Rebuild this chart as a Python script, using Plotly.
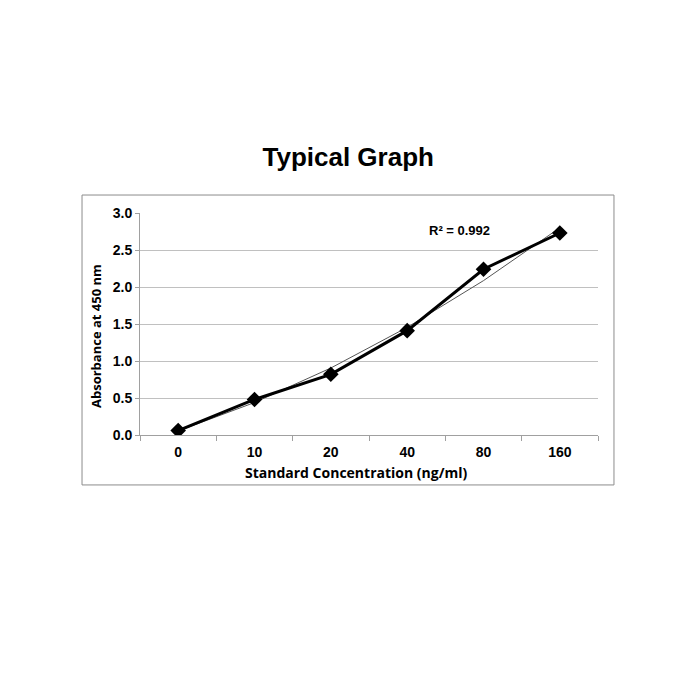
import numpy as np
import plotly.graph_objects as go

# standard curve readings
concentrations = ["0", "10", "20", "40", "80", "160"]
absorbance = [0.06, 0.48, 0.82, 1.41, 2.24, 2.73]
r_squared_label = "R² = 0.992"

# Excel-style polynomial (order 2) trend line over the category positions
idx = np.arange(len(concentrations))
coef = np.polyfit(idx, absorbance, 2)
trend = np.polyval(coef, idx)

fig = go.Figure()
fig.add_trace(go.Scatter(x=concentrations, y=trend, mode="lines",
                         line=dict(color="#555555", width=1), hoverinfo="skip"))
fig.add_trace(go.Scatter(x=concentrations, y=absorbance, mode="lines+markers",
                         line=dict(color="black", width=3),
                         marker=dict(symbol="diamond", size=12, color="black")))

# page body has an 8px margin, so the margins are shifted by that
fig.update_layout(
    width=700, height=700,
    paper_bgcolor="white", plot_bgcolor="white",
    showlegend=False,
    margin=dict(l=132, r=110, t=205, b=273),
    title=dict(text="<b>Typical Graph</b>", x=0.486, xanchor="center", y=0.787, yanchor="middle",
               font=dict(family="Liberation Sans, Arial", size=26, color="black")),
    font=dict(family="Liberation Sans, Arial", color="black"),
)
fig.update_xaxes(
    type="category", range=[-0.5, len(concentrations) - 0.5],
    tickson="boundaries", ticks="outside", ticklen=5, tickcolor="#a0a0a0",
    ticklabelstandoff=4,
    showline=True, linecolor="#a0a0a0", linewidth=1, showgrid=False,
    tickfont=dict(family="Liberation Sans, Arial", size=14, color="black", weight="bold"),
)
fig.update_yaxes(
    range=[0, 3], dtick=0.5, tickformat=".1f",
    showline=True, linecolor="#a0a0a0", linewidth=1,
    showgrid=True, gridcolor="#c0c0c0", gridwidth=1, zeroline=False,
    ticks="outside", ticklen=4, tickcolor="#a0a0a0",
    tickfont=dict(family="Liberation Sans, Arial", size=14, color="black", weight="bold"),
)

# axis titles sit slightly off-centre in the original, so place them by hand
fig.add_annotation(text="<b>Standard Concentration (ng/ml)</b>", xref="paper", yref="paper",
                   x=0.472, xanchor="center", y=-0.171, yanchor="middle", showarrow=False,
                   font=dict(family="Open Sans", size=14, color="black"))
fig.add_annotation(text="<b>Absorbance at 450 nm</b>", xref="paper", yref="paper", textangle=-90,
                   x=-0.096, xanchor="center", y=0.446, yanchor="middle", showarrow=False,
                   font=dict(family="Open Sans", size=13, color="black"))

fig.add_annotation(text="<b>" + r_squared_label + "</b>", xref="paper", yref="paper",
                   x=0.697, xanchor="center", y=0.923, yanchor="middle", showarrow=False,
                   font=dict(family="Liberation Sans, Arial", size=13, color="black"))

# outer chart border
fig.add_shape(type="rect", xref="paper", yref="paper", x0=-0.1266, x1=1.0349, y0=-0.225, y1=1.081,
              line=dict(color="#8c8c8c", width=1))

fig.write_html("out.html")
